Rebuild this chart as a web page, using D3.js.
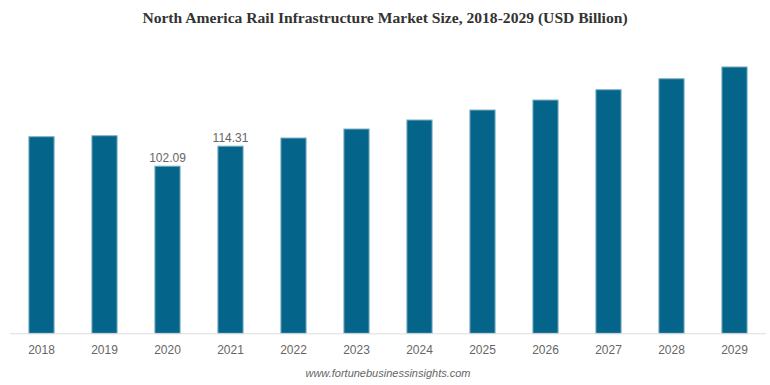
<!DOCTYPE html>
<html>
<head>
<meta charset="utf-8">
<script src="https://cdn.jsdelivr.net/npm/d3@7"></script>
<style>
  body { margin: 0; background: #fff; }
</style>
</head>
<body>
<div id="chart-container"></div>
<script>
// chart data
const years = ["2018","2019","2020","2021","2022","2023","2024","2025","2026","2027","2028","2029"];
const values = [120.1, 120.7, 102.09, 114.31, 119.3, 124.8, 130.3, 136.4, 142.5, 148.8, 155.5, 162.7];
const labelledYears = ["2020","2021"];

const width = 770;
const height = 385;

const svg = d3.select("#chart-container")
  .append("svg")
  .attr("width", width)
  .attr("height", height);

// scales
const x = d3.scaleBand()
  .domain(years)
  .range([10, 766])
  .paddingInner(0.6)
  .paddingOuter(0.3);

const y = d3.scaleLinear()
  .domain([0, 200])
  .range([333.3, 5.9]);

// title
svg.append("text")
  .attr("x", 385)
  .attr("y", 23)
  .attr("text-anchor", "middle")
  .attr("font-family", "'Liberation Serif', 'Times New Roman', serif")
  .attr("font-weight", "bold")
  .attr("font-size", 15.6)
  .attr("fill", "#333")
  .text("North America Rail Infrastructure Market Size, 2018-2029 (USD Billion)");

// bars
svg.selectAll("rect.bar")
  .data(years)
  .join("rect")
  .attr("class", "bar")
  .attr("x", (d) => x(d))
  .attr("width", x.bandwidth())
  .attr("y", (d, i) => y(values[i]))
  .attr("height", (d, i) => y(0) - y(values[i]))
  .attr("fill", "#05648a")
  .attr("stroke", "#7fb0c6")
  .attr("stroke-width", 1);

// x axis
const xAxis = svg.append("g")
  .attr("transform", `translate(0,${y(0)})`)
  .call(d3.axisBottom(x).tickSize(0).tickPadding(12));

xAxis.select(".domain").attr("stroke", "#ddd").attr("d", "M10,0.5H766");
xAxis.selectAll("text")
  .attr("font-family", "'Liberation Sans', Arial, sans-serif")
  .attr("font-size", 12)
  .attr("fill", "#666");

// value labels
svg.selectAll("text.value")
  .data(years.filter((d) => labelledYears.includes(d)))
  .join("text")
  .attr("class", "value")
  .attr("x", (d) => x(d) + x.bandwidth() / 2)
  .attr("y", (d) => y(values[years.indexOf(d)]) - 4)
  .attr("text-anchor", "middle")
  .attr("font-family", "'Liberation Sans', Arial, sans-serif")
  .attr("font-size", 12)
  .attr("fill", "#666")
  .text((d) => values[years.indexOf(d)].toFixed(2));

// source
svg.append("text")
  .attr("x", 388)
  .attr("y", 377)
  .attr("text-anchor", "middle")
  .attr("font-family", "'Liberation Sans', Arial, sans-serif")
  .attr("font-style", "italic")
  .attr("font-size", 11)
  .attr("fill", "#666")
  .text("www.fortunebusinessinsights.com");
</script>
</body>
</html>
